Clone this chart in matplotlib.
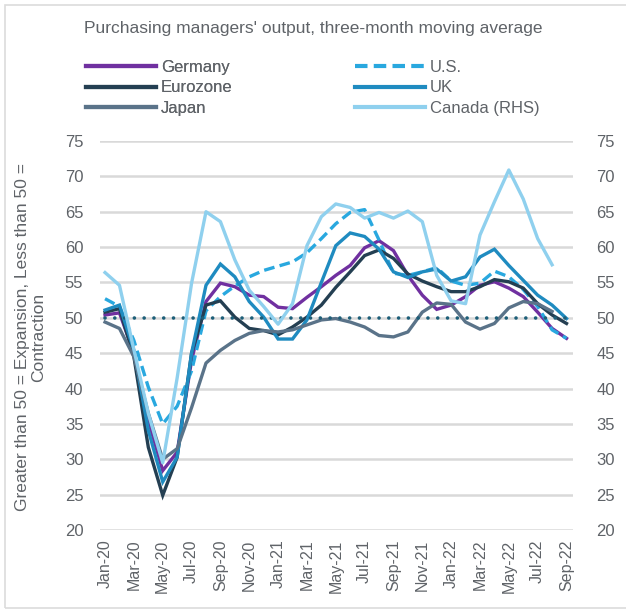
import matplotlib
matplotlib.use("Agg")
from matplotlib import pyplot as plt
from matplotlib.lines import Line2D
from matplotlib.patches import Rectangle

plt.rcParams['font.family'] = ['Liberation Sans', 'DejaVu Sans']

# month ticks (every second month shown)
tick_labels = ['Jan-20', 'Mar-20', 'May-20', 'Jul-20', 'Sep-20', 'Nov-20',
               'Jan-21', 'Mar-21', 'May-21', 'Jul-21', 'Sep-21', 'Nov-21',
               'Jan-22', 'Mar-22', 'May-22', 'Jul-22', 'Sep-22']

# monthly values, Jan-20 .. Sep-22
germany = [50.4, 50.7, 45.0, 35.5, 28.4, 31.0, 44.0, 52.3, 54.9, 54.4, 53.2, 53.0,
           51.5, 51.3, 52.9, 54.4, 56.0, 57.4, 59.9, 60.9, 59.5, 56.0, 53.2, 51.2,
           51.8, 53.0, 54.6, 55.1, 54.2, 53.0, 50.8, 48.5, 47.1]
us = [52.7, 51.6, 46.8, 40.2, 35.0, 37.5, 42.5, 51.0, 53.0, 54.5, 55.8, 56.7,
      57.3, 57.9, 59.2, 61.2, 63.3, 64.9, 65.3, 61.0, 56.3, 56.0, 56.5, 57.1,
      55.2, 54.6, 54.9, 56.6, 55.8, 54.0, 51.6, 48.3, 47.1]
eurozone = [50.8, 51.3, 44.5, 31.7, 24.9, 30.3, 45.0, 51.8, 52.4, 50.1, 48.5, 48.2,
            47.6, 48.7, 50.1, 51.8, 54.3, 56.5, 58.8, 59.6, 58.4, 56.2, 55.2, 54.4,
            53.7, 53.7, 54.4, 55.4, 55.1, 54.2, 52.0, 50.4, 49.2]
uk = [51.1, 51.8, 45.4, 34.1, 26.8, 30.3, 45.0, 54.6, 57.6, 55.8, 52.3, 50.1,
      47.0, 47.0, 49.7, 55.0, 60.2, 62.0, 61.5, 59.7, 56.5, 55.7, 56.5, 56.9,
      55.2, 55.8, 58.6, 59.7, 57.4, 55.3, 53.2, 51.8, 49.9]
japan = [49.4, 48.5, 44.5, 36.5, 30.0, 31.5, 37.3, 43.6, 45.4, 46.8, 47.8, 48.2,
         48.0, 48.3, 49.0, 49.7, 49.9, 49.4, 48.7, 47.5, 47.3, 48.0, 50.8, 52.1,
         51.9, 49.4, 48.4, 49.2, 51.4, 52.3, 52.0, 50.9]
canada = [56.4, 54.6, 45.5, 36.5, 29.5, 41.5, 54.9, 65.0, 63.6, 58.2, 53.9, 51.6,
          49.1, 52.0, 60.2, 64.3, 66.1, 65.6, 64.1, 64.9, 64.1, 65.1, 63.6, 56.0,
          52.4, 52.0, 61.7, 66.4, 70.9, 66.8, 61.2, 57.5]
threshold = 50

TXT = '#5f6368'
GRID = '#d9d9d9'
C_GER = '#7030a0'
C_US = '#29a8df'
C_EZ = '#243f52'
C_UK = '#1f8bc0'
C_JP = '#5a7389'
C_CA = '#8fd0ee'
LW = 2.4

fig = plt.figure(figsize=(6.26, 6.12), dpi=100)
ax = fig.add_axes([100/626, 1-530/612, 473/626, 389/612])

x = list(range(len(germany)))
ax.plot(x, germany, color=C_GER, lw=LW, solid_joinstyle='miter')
ax.plot(x, us, color=C_US, lw=LW, dashes=(3.2, 1.6))
ax.plot(x, eurozone, color=C_EZ, lw=LW, solid_joinstyle='miter')
ax.plot(x, uk, color=C_UK, lw=LW, solid_joinstyle='miter')
ax.plot(x[:len(japan)], japan, color=C_JP, lw=LW)
ax.plot(x, [threshold]*len(x), color='#1d5e78', lw=2.6, linestyle=(0, (0.01, 2.7)),
        dash_capstyle='round', zorder=5)

ax2 = ax.twinx()
ax2.plot(x[:len(canada)], canada, color=C_CA, lw=LW)

for a in (ax, ax2):
    a.set_ylim(20, 75)
    a.set_yticks(range(20, 80, 5))
    a.set_xlim(-0.35, 32.45)
    for s in a.spines.values():
        s.set_visible(False)
    a.tick_params(axis='y', length=0, labelsize=12, labelcolor=TXT)
ax.tick_params(axis='y', pad=12)
ax2.tick_params(axis='y', pad=17)
ax.grid(axis='y', color=GRID, lw=1.8)
ax.set_axisbelow(True)

ax.set_xticks(range(0, 33, 2))
ax.set_xticklabels(tick_labels, rotation=90, fontsize=11.5, color=TXT)
ax.tick_params(axis='x', length=0, pad=7)

fig.text(313/626, 1-28/612, "Purchasing managers' output, three-month moving average",
         ha='center', va='center', fontsize=12.5, color=TXT)
fig.text(31/626, 1-337/612, 'Greater than 50 = Expansion, Less than 50 =\nContraction',
         rotation=90, ha='center', va='center', fontsize=12.5, color=TXT,
         multialignment='center', linespacing=1.1)

def handle(c, **kw):
    return Line2D([], [], color=c, lw=LW + 0.6, **kw)

leg1 = fig.legend([handle(C_GER), handle(C_EZ), handle(C_JP)],
                  ['Germany', 'Eurozone', 'Japan'],
                  loc='upper left', bbox_to_anchor=(86/626, 1-60/612), frameon=False,
                  fontsize=12, handlelength=4.2, handletextpad=0.3, labelspacing=0.32,
                  borderpad=0, borderaxespad=0, labelcolor=TXT)
fig.legend([handle(C_US, dashes=(3.0, 1.5)), handle(C_UK), handle(C_CA)],
           ['U.S.', 'UK', 'Canada (RHS)'],
           loc='upper left', bbox_to_anchor=(355/626, 1-60/612), frameon=False,
           fontsize=12, handlelength=4.2, handletextpad=0.3, labelspacing=0.32,
           borderpad=0, borderaxespad=0, labelcolor=TXT)
fig.add_artist(leg1)

fig.patches.append(Rectangle((5/626, 1-608/612), 700/626, 603/612, transform=fig.transFigure,
                             fill=False, edgecolor='#dcdcdc', lw=1.2))

fig.savefig('out.png', dpi=100)
